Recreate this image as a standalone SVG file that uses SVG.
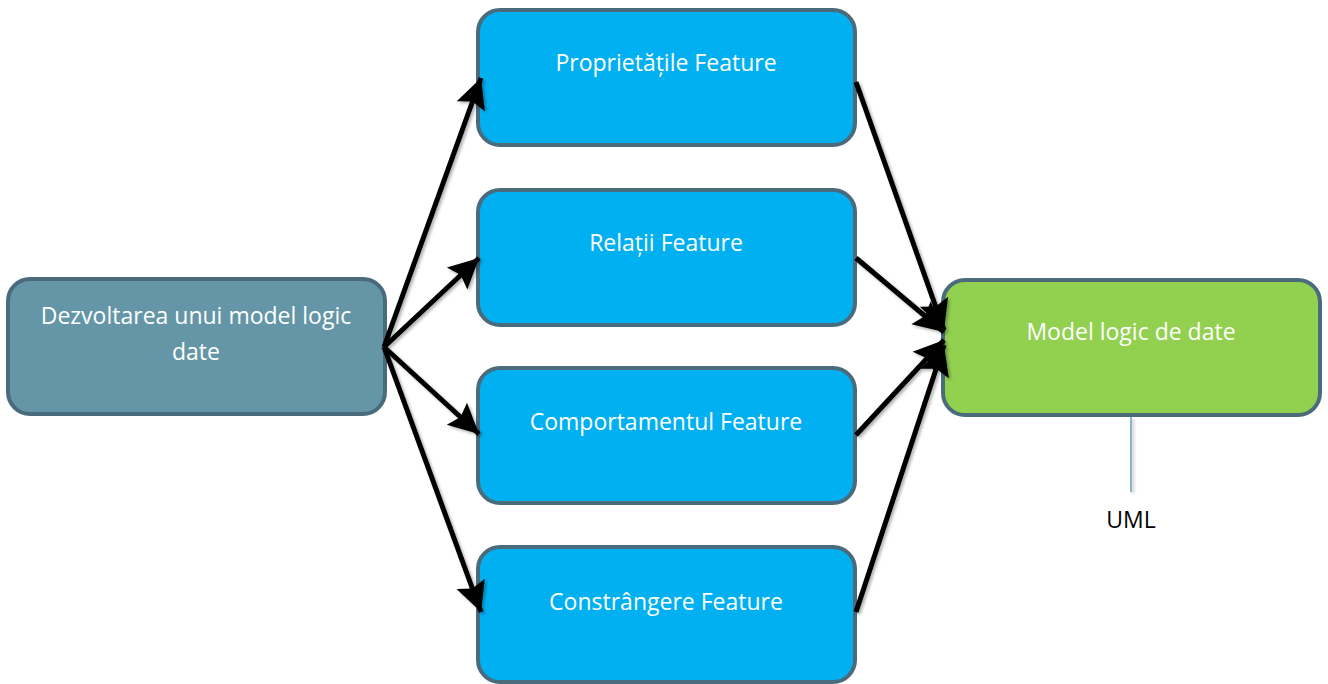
<svg xmlns="http://www.w3.org/2000/svg" width="1328" height="684" viewBox="0 0 1328 684">
<style>
.box{stroke:#4a6b7c;stroke-width:4}
.src{fill:#6496a7}
.feat{fill:#00b0f0}
.res{fill:#92d050}
.lbl{font-family:"Open Sans","Liberation Sans",Arial,sans-serif;font-size:23px;fill:#ffffff;text-anchor:middle}
.dark{fill:#000000}
.arr{stroke:#000;stroke-width:5;fill:none;marker-end:url(#ah)}
</style>
<defs>
<marker id="ah" markerUnits="userSpaceOnUse" markerWidth="34" markerHeight="32" refX="30" refY="15" orient="auto" overflow="visible">
<path d="M0,0 L30,15 L0,30 L5,15 Z" fill="#000"/>
</marker>
<filter id="sh" x="-10%" y="-10%" width="130%" height="130%">
<feDropShadow dx="2" dy="2" stdDeviation="1.5" flood-color="#000" flood-opacity="0.3"/>
</filter>
</defs>
<rect width="1328" height="684" fill="#ffffff"/>
<g id="n_src">
<rect class="box src" x="8" y="279" width="377" height="135" rx="22"/>
<text class="lbl" x="196" y="324">Dezvoltarea unui model logic</text>
<text class="lbl" x="196" y="360">date</text>
</g>
<g id="n_prop">
<rect class="box feat" x="478" y="10" width="377" height="135" rx="22"/>
<text class="lbl" x="666" y="71">Proprietățile Feature</text>
</g>
<g id="n_rel">
<rect class="box feat" x="478" y="190" width="377" height="135" rx="22"/>
<text class="lbl" x="666" y="251">Relații Feature</text>
</g>
<g id="n_comp">
<rect class="box feat" x="478" y="368" width="377" height="135" rx="22"/>
<text class="lbl" x="666" y="430">Comportamentul Feature</text>
</g>
<g id="n_cons">
<rect class="box feat" x="478" y="547" width="377" height="135" rx="22"/>
<text class="lbl" x="666" y="610">Constrângere Feature</text>
</g>
<g id="n_model">
<rect class="box res" x="943" y="280" width="377" height="135" rx="22"/>
<text class="lbl" x="1131" y="340">Model logic de date</text>
</g>
<g id="n_uml">
<text class="lbl dark" x="1131" y="528">UML</text>
</g>
<g id="connectors" filter="url(#sh)">
<line class="arr" x1="384" y1="347" x2="481" y2="78"/>
<line class="arr" x1="384" y1="347" x2="479" y2="258"/>
<line class="arr" x1="384" y1="347" x2="479" y2="434"/>
<line class="arr" x1="384" y1="347" x2="481" y2="612"/>
<line class="arr" x1="856" y1="82" x2="944" y2="330"/>
<line class="arr" x1="856" y1="258" x2="944" y2="332"/>
<line class="arr" x1="856" y1="435" x2="944" y2="340"/>
<line class="arr" x1="856" y1="612" x2="944" y2="345"/>
<line x1="1131" y1="417" x2="1131" y2="492" stroke="#6a9fb5" stroke-width="1.5"/>
</g>
</svg>
